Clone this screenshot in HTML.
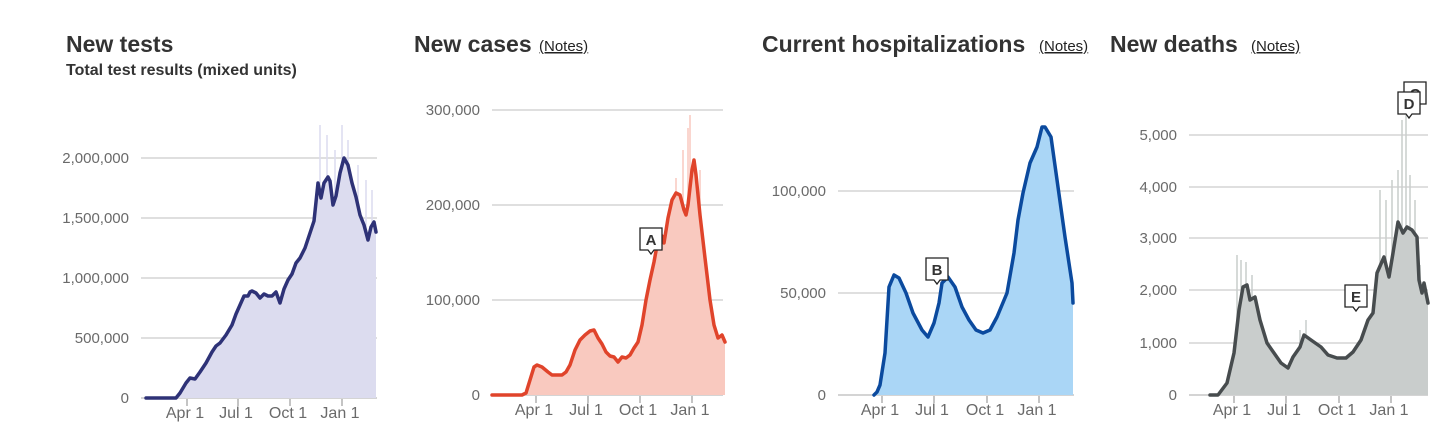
<!DOCTYPE html>
<html><head><meta charset="utf-8"><style>
html,body{margin:0;padding:0;background:#fff;width:1456px;height:437px;overflow:hidden}
svg{display:block}
.t{font-family:"Liberation Sans",sans-serif;font-weight:bold;fill:#333}
.n{font-family:"Liberation Sans",sans-serif;font-size:15px;fill:#222;text-decoration:underline}
.a{font-family:"Liberation Sans",sans-serif;font-size:15px;fill:#6a6a6a}
.k{font-family:"Liberation Sans",sans-serif;font-size:16px;fill:#6a6a6a}
</style></head><body>
<svg id="s" width="1456" height="437" xmlns="http://www.w3.org/2000/svg">
<text class="t" x="66" y="52" font-size="23">New tests</text>
<text class="t" x="66" y="75" font-size="16">Total test results (mixed units)</text>
<text class="t" x="414" y="52" font-size="23">New cases</text><text class="n" x="539" y="51">(Notes)</text>
<text class="t" x="762" y="52" font-size="23">Current hospitalizations</text><text class="n" x="1039" y="51">(Notes)</text>
<text class="t" x="1110" y="52" font-size="23">New deaths</text><text class="n" x="1251" y="51">(Notes)</text>
</svg>
<script>
var s=document.getElementById('s'),NS='http://www.w3.org/2000/svg';
function el(t,a,txt){var e=document.createElementNS(NS,t);for(var k in a)e.setAttribute(k,a[k]);if(txt)e.textContent=txt;s.appendChild(e);return e;}
function panel(o){
 o.grid.forEach(function(g){el('line',{x1:o.gx0,x2:o.gx1,y1:g[0],y2:g[0],stroke:g[1]=='0'?'#bbb':'#ccc','stroke-width':1.3});
  el('text',{class:'a',x:o.gx0-12,y:g[0]+5,'text-anchor':'end'},g[1]);});
 var p=o.pts,d='M'+p.map(function(q){return q.join(',')}).join(' L');
 el('path',{d:d+' L'+p[p.length-1][0]+','+o.base+' L'+p[0][0]+','+o.base+'Z',fill:o.fill});
 if(o.spikes)o.spikes.forEach(function(q){el('line',{x1:q[0],x2:q[0],y1:o.base,y2:q[1],stroke:o.fill,'stroke-width':1.5});});
 el('path',{d:d,fill:'none',stroke:o.line,'stroke-width':3.5,'stroke-linejoin':'round','stroke-linecap':'round'});
 o.ticks.forEach(function(x,i){el('line',{x1:x,x2:x,y1:o.base+1,y2:o.base+8,stroke:'#888'});
  el('text',{class:'k',x:x-2,y:o.base+20,'text-anchor':'middle'},['Apr 1','Jul 1','Oct 1','Jan 1'][i]);});
}
function box(x,y,l){el('path',{d:'M'+x+','+y+' h22 v22 h-8 l-3,4 l-3,-4 h-8 z',fill:'#fff',stroke:'#222','stroke-width':1.3});
 el('text',{class:'t',x:x+11,y:y+17,'font-size':15,'text-anchor':'middle'},l);}
panel({gx0:141,gx1:377,base:398,fill:'#dcdcef',line:'#2e3277',ticks:[187,238,290,342],
 grid:[[398,'0'],[338,'500,000'],[278,'1,000,000'],[218,'1,500,000'],[158,'2,000,000']],
 pts:[[146,398],[176,398],[180,393],[186,383],[190,378],[195,379],[200,372],[206,363],[212,352],[216,346],[220,343],[226,335],[232,325],[236,314],[240,305],[244,296],[248,296],[250,292],[252,291],[256,293],[260,298],[264,294],[268,296],[272,296],[276,292],[280,303],[284,289],[288,280],[292,274],[296,263],[300,258],[305,248],[310,233],[314,221],[318,183],[321,198],[324,183],[328,177],[330,181],[333,205],[336,196],[340,173],[344,158],[348,165],[352,183],[356,197],[360,215],[364,225],[368,240],[371,227],[374,222],[376,232]],
 spikes:[[320,125],[327,135],[335,150],[342,125],[348,140],[358,165],[366,180],[372,190]]});
panel({gx0:492,gx1:723,base:395,fill:'#f9c9bf',line:'#e0442b',ticks:[536,588,640,692],
 grid:[[395,'0'],[300,'100,000'],[205,'200,000'],[110,'300,000']],
 pts:[[492,395],[522,395],[526,393],[530,380],[534,367],[537,365],[542,367],[548,372],[552,375],[562,375],[566,372],[570,365],[575,350],[580,340],[585,335],[590,331],[594,330],[598,338],[602,344],[606,352],[610,356],[614,357],[618,362],[622,357],[626,358],[630,355],[634,348],[638,342],[642,325],[646,300],[650,280],[654,262],[658,240],[662,236],[664,243],[668,218],[672,200],[676,193],[680,195],[684,210],[686,215],[688,205],[692,170],[694,160],[696,175],[700,215],[705,258],[710,300],[714,325],[718,338],[722,335],[725,342]],
 spikes:[[690,115],[688,128],[683,150],[700,170],[676,178]]});
box(640,228,'A');
panel({gx0:838,gx1:1074,base:395,fill:'#aad6f6',line:'#0b4a9e',ticks:[882,934,987,1039],
 grid:[[395,'0'],[293,'50,000'],[191,'100,000']],
 pts:[[874,395],[877,392],[880,385],[885,353],[889,287],[894,275],[899,278],[906,293],[913,313],[922,330],[928,337],[934,323],[939,303],[942,283],[948,277],[955,287],[962,307],[969,320],[976,330],[983,333],[990,330],[997,317],[1007,293],[1014,253],[1018,220],[1023,193],[1030,163],[1037,147],[1042,127],[1045,127],[1051,137],[1058,187],[1065,237],[1072,283],[1073,303]]});
box(926,258,'B');
panel({gx0:1189,gx1:1428,base:395,fill:'#c9cdcc',line:'#474c4e',ticks:[1234,1286,1339,1391],
 grid:[[395,'0'],[343,'1,000'],[290,'2,000'],[238,'3,000'],[187,'4,000'],[135,'5,000']],
 pts:[[1210,395],[1218,395],[1227,383],[1234,353],[1239,310],[1243,287],[1247,285],[1250,300],[1255,297],[1260,320],[1267,343],[1274,353],[1281,363],[1288,368],[1293,357],[1300,347],[1304,335],[1311,340],[1321,347],[1328,355],[1337,358],[1346,358],[1353,352],[1361,340],[1368,320],[1373,313],[1377,273],[1384,257],[1389,277],[1393,253],[1398,222],[1403,233],[1407,227],[1412,230],[1417,237],[1419,280],[1422,293],[1424,283],[1428,303]],
 spikes:[[1237,255],[1241,260],[1246,262],[1252,275],[1300,330],[1306,320],[1380,190],[1386,200],[1392,180],[1398,170],[1402,120],[1406,115],[1410,175],[1415,200],[1420,265],[1426,300]]});
box(1404,82,'C');box(1398,92,'D');box(1345,285,'E');
</script>
</body></html>
